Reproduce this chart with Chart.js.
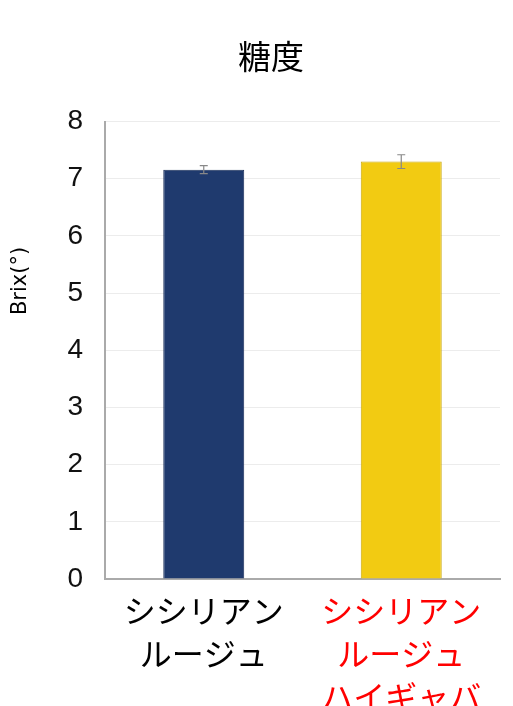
<!DOCTYPE html>
<html>
<head>
<meta charset="utf-8">
<script src="https://cdn.jsdelivr.net/npm/chart.js@4.4.0/dist/chart.umd.min.js"></script>
<style>
  html, body { margin: 0; padding: 0; background: #fff; }
  #wrap { width: 513px; height: 706px; }
</style>
</head>
<body>
<div id="wrap"><canvas id="myChart" width="513" height="706"></canvas></div>
<script>
const categories = [['シシリアン', 'ルージュ'], ['シシリアン', 'ルージュ', 'ハイギャバ']]
const brix = [7.16, 7.30]
const brixErr = [0.07, 0.12]
const yTicks = [0, 1, 2, 3, 4, 5, 6, 7, 8]
const barColors = ['#1f3a6e', '#f2cb12']
const labelColors = ['#000000', '#ff0000']
const yTitle = 'Brix(°)'

// draws the error bars from the data through the y scale
const errorBars = {
  id: 'errorBars',
  afterDatasetsDraw(chart) {
    const ctx = chart.ctx
    const yScale = chart.scales.y
    const meta = chart.getDatasetMeta(0)
    ctx.save()
    ctx.strokeStyle = '#888'
    ctx.lineWidth = 1.2
    meta.data.forEach((bar, i) => {
      let x = bar.x
      let top = yScale.getPixelForValue(brix[i] + brixErr[i])
      let bot = yScale.getPixelForValue(brix[i] - brixErr[i])
      ctx.beginPath()
      ctx.moveTo(x, top); ctx.lineTo(x, bot)
      ctx.moveTo(x - 4, top); ctx.lineTo(x + 4, top)
      ctx.moveTo(x - 4, bot); ctx.lineTo(x + 4, bot)
      ctx.stroke()
    })
    ctx.restore()
  }
}

// y axis title sits higher than the middle of the axis in the original
const yAxisTitle = {
  id: 'yAxisTitle',
  afterDraw(chart) {
    const ctx = chart.ctx
    ctx.save()
    ctx.translate(21, 281)
    ctx.rotate(-Math.PI / 2)
    ctx.fillStyle = '#000'
    ctx.font = '21px "DejaVu Sans"'
    ctx.textAlign = 'center'
    ctx.textBaseline = 'middle'
    ctx.fillText(yTitle, 0, 0)
    ctx.restore()
  }
}

let myChart = new Chart(document.getElementById('myChart').getContext('2d'), {
  type: 'bar',
  data: {
    labels: categories,
    datasets: [{
      label: '糖度',
      data: brix,
      backgroundColor: barColors,
      borderColor: ['#1a2f5a', '#c9a80e'],
      borderWidth: 1,
      categoryPercentage: 1,
      barPercentage: 0.41
    }]
  },
  options: {
    responsive: false,
    animation: false,
    layout: { padding: { left: 42, right: 13, top: 0, bottom: 0 } },
    plugins: {
      legend: { display: false },
      tooltip: { enabled: false },
      title: {
        display: true,
        text: '糖度',
        color: '#000',
        font: { size: 33, family: 'Noto Sans CJK JP', weight: 'normal', lineHeight: 1.2 },
        padding: { top: 37, bottom: 45 }
      }
    },
    scales: {
      y: {
        min: 0,
        max: 8,
        afterBuildTicks: (scale) => { scale.ticks = yTicks.map(v => ({ value: v })) },
        afterFit: (scale) => { scale.width = 63 },
        grid: { color: '#ececec', drawTicks: false },
        border: { color: '#aaa', width: 2 },
        ticks: {
          color: '#111',
          padding: 22,
          font: { size: 28, family: 'Liberation Sans' }
        }
      },
      x: {
        afterFit: (scale) => { scale.height = 127 },
        grid: { display: false, drawTicks: false },
        border: { color: '#aaa', width: 2 },
        ticks: {
          color: (c) => labelColors[c.index],
          padding: 11,
          font: { size: 32, family: 'Noto Sans CJK JP', lineHeight: 1.33 }
        }
      }
    }
  },
  plugins: [errorBars, yAxisTitle]
})
</script>
</body>
</html>
